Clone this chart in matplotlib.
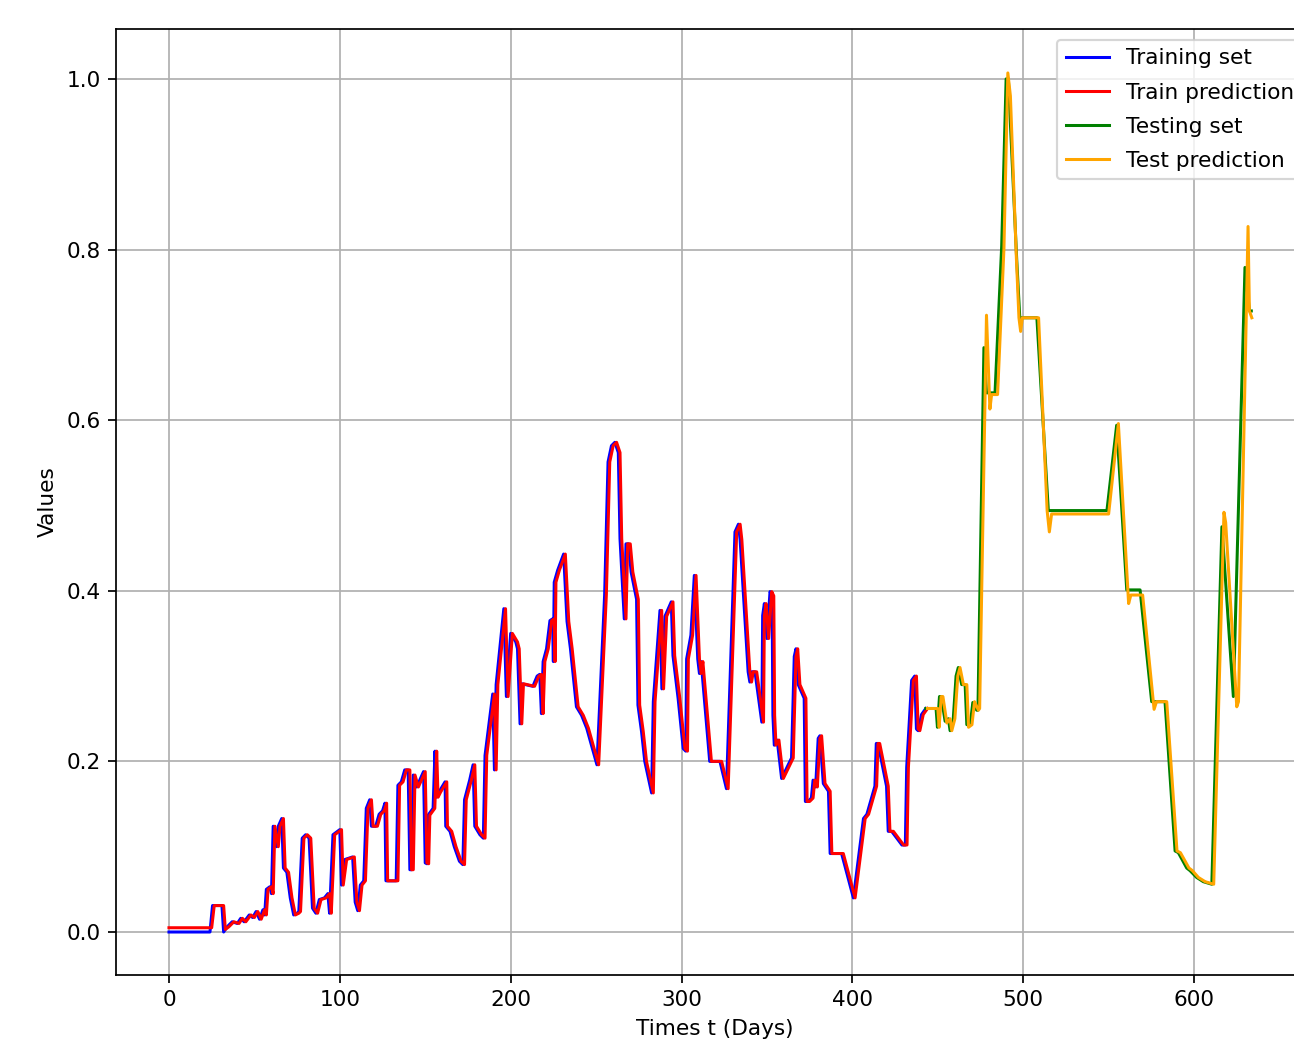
import matplotlib
matplotlib.use("Agg")
import matplotlib.pyplot as plt

# ---- data ----
train_days = [0, 24, 25.5, 31, 32, 34, 37, 40, 42, 44,
              47, 49, 51, 53, 55, 56, 57, 59, 60, 61,
              63, 64, 66, 67, 69, 71, 73, 75, 76, 78,
              80, 82, 84, 86, 88, 91, 93, 94, 96, 100,
              101, 103, 107.5, 109, 110.5, 112, 114, 115.5, 117.5, 118.5,
              121, 123, 125, 126.4, 127, 133, 134, 136, 138, 140,
              141, 142, 143, 145, 149, 150, 151, 151.7, 154.6, 155.7,
              156.5, 158, 161.6, 162, 164.5, 167, 170, 172, 173, 176,
              178, 179, 182, 184, 185, 189.5, 190.5, 191.5, 196, 197.5,
              200, 203, 204, 205.5, 206.5, 213, 215.5, 217, 218, 219,
              221, 223, 224.5, 225, 225.5, 227.5, 231, 233, 235, 238.5,
              241.5, 244.5, 250.5, 255, 257, 259, 261, 263, 264, 266.5,
              267.5, 269, 270.5, 273.7, 274.5, 276.6, 278.5, 282.5, 283.5, 287.4,
              288.5, 290.3, 294, 295, 298, 301, 302.5, 303, 305.5, 307.5,
              309.5, 310.5, 311.5, 316.5, 322.5, 326.3, 331.3, 333.3, 334.3, 339,
              340, 341, 343, 347, 347.5, 348.5, 350, 351.8, 353, 353.5,
              354.3, 356, 358.6, 364.4, 366, 367, 368.3, 371.8, 372.5, 374,
              376, 377, 378.5, 380, 381, 383, 386, 387, 393.7, 400.6,
              406.5, 408.5, 413.2, 414, 415, 420, 421, 423, 429, 431,
              431.8, 434.7, 436.5, 437.5, 438.5, 440.5, 443]
train_values = [0.0, 0.0, 0.031, 0.031, 0.0, 0.006, 0.012, 0.01, 0.016, 0.012,
                0.02, 0.017, 0.024, 0.015, 0.026, 0.02, 0.05, 0.053, 0.045, 0.124,
                0.10, 0.124, 0.133, 0.075, 0.07, 0.04, 0.02, 0.022, 0.024, 0.11,
                0.114, 0.11, 0.028, 0.022, 0.038, 0.04, 0.045, 0.022, 0.114, 0.12,
                0.055, 0.085, 0.088, 0.035, 0.025, 0.055, 0.06, 0.145, 0.155, 0.124,
                0.124, 0.138, 0.142, 0.151, 0.06, 0.06, 0.172, 0.176, 0.19, 0.19,
                0.073, 0.073, 0.184, 0.17, 0.188, 0.081, 0.08, 0.137, 0.145, 0.212,
                0.158, 0.164, 0.176, 0.124, 0.118, 0.10, 0.083, 0.079, 0.155, 0.178,
                0.196, 0.124, 0.114, 0.11, 0.207, 0.279, 0.19, 0.29, 0.379, 0.276,
                0.35, 0.34, 0.332, 0.244, 0.291, 0.288, 0.30, 0.302, 0.256, 0.317,
                0.332, 0.365, 0.367, 0.317, 0.41, 0.424, 0.443, 0.364, 0.332, 0.264,
                0.254, 0.239, 0.196, 0.395, 0.551, 0.57, 0.574, 0.562, 0.461, 0.367,
                0.455, 0.455, 0.422, 0.39, 0.266, 0.235, 0.2, 0.163, 0.27, 0.377,
                0.285, 0.37, 0.387, 0.324, 0.274, 0.215, 0.212, 0.32, 0.348, 0.418,
                0.32, 0.303, 0.317, 0.2, 0.2, 0.168, 0.469, 0.478, 0.46, 0.305,
                0.293, 0.305, 0.305, 0.246, 0.371, 0.385, 0.344, 0.399, 0.394, 0.254,
                0.219, 0.225, 0.18, 0.204, 0.323, 0.332, 0.29, 0.274, 0.153, 0.153,
                0.157, 0.178, 0.17, 0.227, 0.23, 0.174, 0.165, 0.092, 0.092, 0.04,
                0.133, 0.138, 0.171, 0.221, 0.221, 0.171, 0.118, 0.118, 0.102, 0.102,
                0.193, 0.295, 0.30, 0.238, 0.236, 0.255, 0.262]

train_pred_days = [0, 25, 26.5, 32, 33, 35, 38, 41, 43, 45,
                   48, 50, 52, 54, 56, 57, 58, 60, 61, 62,
                   64, 65, 67, 68, 70, 72, 74, 76, 77, 79,
                   81, 83, 85, 87, 89, 92, 94, 95, 97, 101,
                   102, 104, 108.5, 110, 111.5, 113, 115, 116.5, 118.5, 119.5,
                   122, 124, 126, 127.4, 128, 134, 135, 137, 139, 141,
                   142, 143, 144, 146, 150, 151, 152, 152.7, 155.6, 156.7,
                   157.5, 159, 162.6, 163, 165.5, 168, 171, 173, 174, 177,
                   179, 180, 183, 185, 186, 190.5, 191.5, 192.5, 197, 198.5,
                   201, 204, 205, 206.5, 207.5, 214, 216.5, 218, 219, 220,
                   222, 224, 225.5, 226, 226.5, 228.5, 232, 234, 236, 239.5,
                   242.5, 245.5, 251.5, 256, 258, 260, 262, 264, 265, 267.5,
                   268.5, 270, 271.5, 274.7, 275.5, 277.6, 279.5, 283.5, 284.5, 288.4,
                   289.5, 291.3, 295, 296, 299, 302, 303.5, 304, 306.5, 308.5,
                   310.5, 311.5, 312.5, 317.5, 323.5, 327.3, 332.3, 334.3, 335.3, 340,
                   341, 342, 344, 348, 348.5, 349.5, 351, 352.8, 354, 354.5,
                   355.3, 357, 359.6, 365.4, 367, 368, 369.3, 372.8, 373.5, 375,
                   377, 378, 379.5, 381, 382, 384, 387, 388, 394.7, 401.6,
                   407.5, 409.5, 414.2, 415, 416, 421, 422, 424, 430, 432,
                   432.8, 435.7, 437.5, 438.5, 439.5, 441.5, 444]
train_pred_values = [0.005, 0.005, 0.031, 0.031, 0.003, 0.006, 0.012, 0.01, 0.016, 0.012,
                     0.02, 0.017, 0.024, 0.015, 0.026, 0.02, 0.05, 0.053, 0.045, 0.124,
                     0.10, 0.124, 0.133, 0.075, 0.07, 0.04, 0.02, 0.022, 0.024, 0.11,
                     0.114, 0.11, 0.028, 0.022, 0.038, 0.04, 0.045, 0.022, 0.114, 0.12,
                     0.055, 0.085, 0.088, 0.035, 0.025, 0.055, 0.06, 0.145, 0.155, 0.124,
                     0.124, 0.138, 0.142, 0.151, 0.06, 0.06, 0.172, 0.176, 0.19, 0.19,
                     0.073, 0.073, 0.184, 0.17, 0.188, 0.081, 0.08, 0.137, 0.145, 0.212,
                     0.158, 0.164, 0.176, 0.124, 0.118, 0.10, 0.083, 0.079, 0.155, 0.178,
                     0.196, 0.124, 0.114, 0.11, 0.207, 0.279, 0.19, 0.29, 0.379, 0.276,
                     0.35, 0.34, 0.332, 0.244, 0.291, 0.288, 0.30, 0.302, 0.256, 0.317,
                     0.332, 0.365, 0.367, 0.317, 0.41, 0.424, 0.443, 0.364, 0.332, 0.264,
                     0.254, 0.239, 0.196, 0.395, 0.551, 0.57, 0.574, 0.562, 0.461, 0.367,
                     0.455, 0.455, 0.422, 0.39, 0.266, 0.235, 0.2, 0.163, 0.27, 0.377,
                     0.285, 0.37, 0.387, 0.324, 0.274, 0.215, 0.212, 0.32, 0.348, 0.418,
                     0.32, 0.303, 0.317, 0.2, 0.2, 0.168, 0.469, 0.478, 0.46, 0.305,
                     0.293, 0.305, 0.305, 0.246, 0.371, 0.385, 0.344, 0.399, 0.394, 0.254,
                     0.219, 0.225, 0.18, 0.204, 0.323, 0.332, 0.29, 0.274, 0.153, 0.153,
                     0.157, 0.178, 0.17, 0.227, 0.23, 0.174, 0.165, 0.092, 0.092, 0.04,
                     0.133, 0.138, 0.171, 0.221, 0.221, 0.171, 0.118, 0.118, 0.102, 0.102,
                     0.193, 0.295, 0.30, 0.238, 0.236, 0.255, 0.262]

test_days = [443, 449, 449.8, 451, 452, 454.3, 456.2, 457.2, 459, 460.7,
             462, 464, 466, 467, 469, 470.5, 472.8, 473.5, 477, 478.5,
             483.5, 487.4, 490, 491.3, 496.2, 498, 508, 514.7, 549, 554.7,
             560.6, 568.4, 575.2, 583, 588.9, 590.8, 595.7, 597.6, 601.5, 605.4,
             610.4, 616.3, 623, 629.8, 632.4, 633.5]
test_values = [0.262, 0.262, 0.24, 0.276, 0.276, 0.247, 0.25, 0.236, 0.248, 0.30,
               0.31, 0.29, 0.29, 0.243, 0.243, 0.269, 0.26, 0.26, 0.685, 0.632,
               0.632, 0.804, 1.0, 1.0, 0.788, 0.72, 0.72, 0.494, 0.494, 0.594,
               0.401, 0.401, 0.27, 0.27, 0.095, 0.093, 0.075, 0.072, 0.064, 0.059,
               0.056, 0.475, 0.276, 0.779, 0.728, 0.728]

test_pred_days = [444, 450, 450.8, 452, 453, 455.3, 457.2, 458.2, 460, 461.7,
                  463, 465, 467, 468, 470, 471.5, 473.8, 474.5, 478.5, 480.5,
                  481.5, 485, 488.7, 491, 492.5, 496, 497.5, 498.5, 499.5, 509,
                  514, 515.3, 516.6, 550, 555.7, 561.7, 563, 569.9, 576.6, 578,
                  584, 590, 592, 597, 599, 602.5, 606.5, 611.5, 617.5, 618.5,
                  625, 626, 631.6, 632.4, 633.8]
test_pred_values = [0.262, 0.262, 0.24, 0.276, 0.276, 0.245, 0.25, 0.236, 0.25, 0.30,
                    0.31, 0.29, 0.29, 0.24, 0.243, 0.27, 0.26, 0.262, 0.723, 0.613,
                    0.63, 0.63, 0.80, 1.007, 0.98, 0.79, 0.72, 0.704, 0.72, 0.72,
                    0.494, 0.469, 0.49, 0.49, 0.596, 0.385, 0.395, 0.395, 0.261, 0.27,
                    0.27, 0.095, 0.093, 0.075, 0.072, 0.064, 0.059, 0.056, 0.492, 0.48,
                    0.264, 0.27, 0.827, 0.728, 0.72]

labels = ["Training set", "Train prediction", "Testing set", "Test prediction"]
colors = ["blue", "red", "green", "orange"]

# ---- figure ----
W, H, DPI = 1294, 1043, 156
fig = plt.figure(figsize=(W / DPI, H / DPI), dpi=DPI)
ax = fig.add_axes([116 / W, (H - 975) / H, (1314 - 116) / W, (975 - 29) / H])

ax.plot(train_days, train_values, color=colors[0], label=labels[0], lw=1.4)
ax.plot(train_pred_days, train_pred_values, color=colors[1], label=labels[1], lw=1.4)
ax.plot(test_days, test_values, color=colors[2], label=labels[2], lw=1.4)
ax.plot(test_pred_days, test_pred_values, color=colors[3], label=labels[3], lw=1.4)

ax.set_xlim(-31.0, 670.2)
ax.set_ylim(-0.0504, 1.0585)
ax.set_xticks([0, 100, 200, 300, 400, 500, 600])
ax.set_yticks([0.0, 0.2, 0.4, 0.6, 0.8, 1.0])
ax.grid(True)
ax.set_xlabel("Times t (Days)")
ax.set_ylabel("Values")
ax.legend(loc="upper right", labelspacing=0.65)

fig.savefig("out.png", dpi=DPI)
